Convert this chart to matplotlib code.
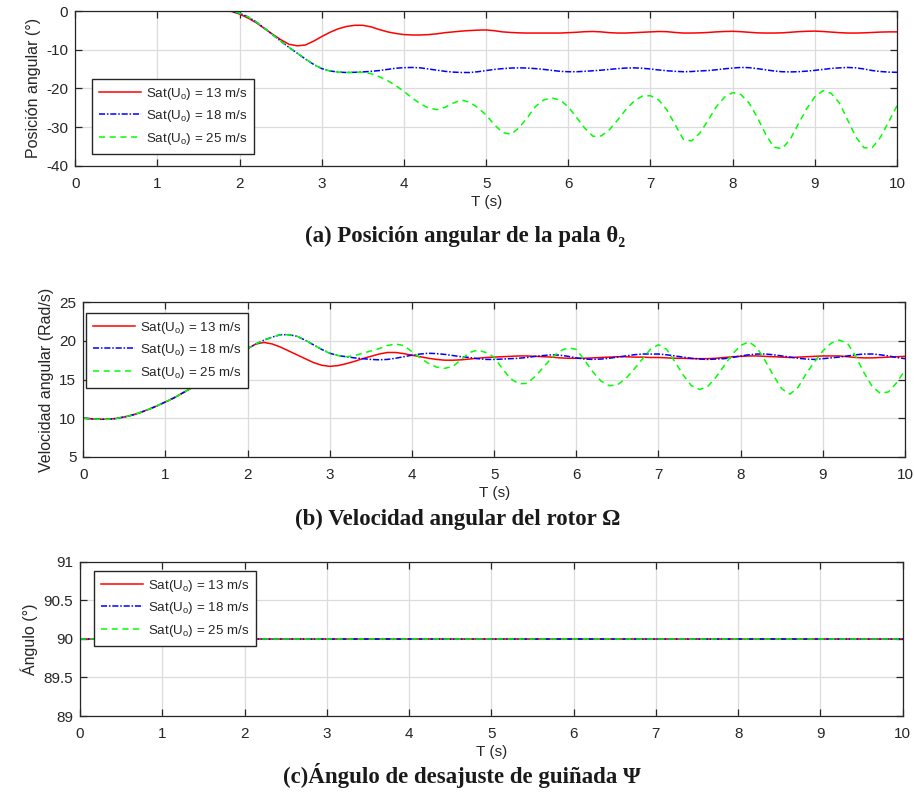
import numpy as np
import matplotlib
matplotlib.use("Agg")
import matplotlib.pyplot as plt

plt.rcParams['font.family'] = ['Liberation Sans', 'DejaVu Sans']
plt.rcParams['axes.unicode_minus'] = False

# ---------------- data ----------------
t = [round(0.1 * i, 1) for i in range(101)]
t_flat = [0.0, 10.0]

labels = ['Sat(U$_\\mathregular{o}$) = 13 m/s',
          'Sat(U$_\\mathregular{o}$) = 18 m/s',
          'Sat(U$_\\mathregular{o}$) = 25 m/s']

# (a) blade angular position theta_2 (deg)
theta_13 = [0.0] * 19 + [
    -0.1, -0.8, -1.8, -3.0, -4.5, -6.0, -7.4, -8.6, -9.0, -8.8, -7.8,
    -6.6, -5.5, -4.6, -4.0, -3.7, -3.7, -4.1, -4.8, -5.4, -5.8,
    -6.1, -6.2, -6.2, -6.1, -5.9, -5.6, -5.4, -5.2, -5.05, -4.95,
    -4.9, -5.1, -5.4, -5.55, -5.65, -5.7, -5.7, -5.7, -5.7, -5.7,
    -5.6, -5.5, -5.35, -5.3, -5.4, -5.6, -5.7, -5.7, -5.6, -5.5,
    -5.4, -5.3, -5.35, -5.55, -5.7, -5.7, -5.65, -5.55, -5.4, -5.3,
    -5.25, -5.35, -5.5, -5.65, -5.7, -5.7, -5.65, -5.5, -5.35, -5.25,
    -5.2, -5.3, -5.45, -5.6, -5.7, -5.7, -5.65, -5.55, -5.45, -5.4,
    -5.4]
theta_18 = [0.0] * 19 + [
    -0.05, -0.6, -1.5, -2.8, -4.4, -6.1, -7.8, -9.4, -10.9, -12.4, -13.8,
    -14.9, -15.5, -15.8, -15.9, -15.85, -15.75, -15.6, -15.4, -15.1, -14.8,
    -14.65, -14.6, -14.7, -15.0, -15.3, -15.6, -15.8, -15.9, -15.9, -15.7,
    -15.4, -15.1, -14.9, -14.75, -14.7, -14.75, -14.9, -15.1, -15.35, -15.6,
    -15.7, -15.7, -15.6, -15.45, -15.3, -15.1, -14.9, -14.75, -14.7, -14.8,
    -15.0, -15.25, -15.45, -15.6, -15.7, -15.65, -15.5, -15.4, -15.2, -14.95,
    -14.75, -14.6, -14.65, -14.9, -15.2, -15.5, -15.7, -15.75, -15.7, -15.55,
    -15.35, -15.1, -14.85, -14.7, -14.6, -14.7, -15.0, -15.4, -15.65, -15.8,
    -15.85]
theta_25 = [0.0] * 19 + [
    -0.05, -0.6, -1.5, -2.8, -4.4, -6.1, -7.8, -9.4, -10.9, -12.4, -13.8,
    -14.9, -15.5, -15.8, -15.9, -15.85, -15.85, -16.2, -17.0, -18.0, -19.3,
    -20.8, -22.5, -24.0, -25.1, -25.5, -24.9, -23.8, -23.0, -23.6, -25.0,
    -26.9, -29.4, -31.4, -31.9, -30.2, -27.6, -24.7, -23.0, -22.5, -23.0,
    -24.8, -27.5, -30.3, -32.4, -32.3, -30.7, -28.2, -25.5, -23.3, -22.0,
    -21.9, -23.0, -25.6, -29.4, -33.2, -33.6, -31.6, -28.3, -24.8, -22.3,
    -21.1, -21.6, -23.8, -27.5, -31.8, -35.2, -35.6, -33.2, -29.2, -25.3,
    -22.2, -20.6, -21.3, -23.8, -28.2, -32.6, -35.4, -35.3, -32.6, -28.6,
    -24.5]

# (b) rotor angular speed Omega (rad/s)
omega_start = [10.0, 9.9, 9.85, 9.85, 9.95, 10.15, 10.4, 10.75, 11.15, 11.6,
               12.1, 12.6, 13.2, 13.8, 14.4, 15.1, 15.8, 16.5, 17.3, 18.1,
               19.0]
omega_13 = omega_start + [
    19.6, 19.8, 19.6, 19.2, 18.7, 18.2, 17.7, 17.2, 16.85, 16.7,
    16.8, 17.05, 17.35, 17.7, 18.0, 18.3, 18.5, 18.5, 18.35, 18.15,
    17.95, 17.75, 17.6, 17.5, 17.5, 17.55, 17.65, 17.75, 17.85, 17.9,
    17.95, 18.0, 18.05, 18.05, 18.0, 17.95, 17.9, 17.8, 17.75, 17.75,
    17.75, 17.8, 17.85, 17.9, 17.95, 17.95, 17.9, 17.9, 17.85, 17.85,
    17.8, 17.75, 17.75, 17.7, 17.7, 17.7, 17.75, 17.85, 17.95, 18.0,
    18.05, 18.05, 18.0, 17.95, 17.9, 17.85, 17.9, 17.95, 18.0, 18.05,
    18.05, 18.05, 17.95, 17.85, 17.8, 17.8, 17.85, 17.9, 17.95, 18.0]
omega_18 = omega_start + [
    19.6, 20.1, 20.5, 20.8, 20.8, 20.6, 20.1, 19.5, 18.9, 18.4,
    18.1, 17.95, 17.8, 17.7, 17.6, 17.55, 17.6, 17.75, 17.95, 18.15,
    18.3, 18.4, 18.35, 18.25, 18.1, 17.95, 17.85, 17.7, 17.6, 17.6,
    17.65, 17.7, 17.75, 17.85, 18.0, 18.1, 18.2, 18.15, 18.0, 17.8,
    17.65, 17.6, 17.65, 17.75, 17.9, 18.05, 18.2, 18.3, 18.3, 18.3,
    18.2, 18.05, 17.9, 17.75, 17.65, 17.6, 17.65, 17.7, 17.85, 18.05,
    18.2, 18.3, 18.3, 18.2, 18.05, 17.9, 17.75, 17.65, 17.6, 17.7,
    17.8, 17.9, 18.05, 18.2, 18.3, 18.3, 18.2, 18.05, 17.85, 17.7]
omega_25 = omega_start + [
    19.6, 20.1, 20.5, 20.8, 20.8, 20.6, 20.1, 19.5, 18.9, 18.4,
    18.1, 17.95, 18.1, 18.4, 18.7, 19.0, 19.4, 19.6, 19.4, 18.6,
    17.8, 17.1, 16.6, 16.45, 16.7, 17.6, 18.5, 18.8, 18.5, 17.9,
    16.4, 15.1, 14.45, 14.5, 15.4, 16.6, 17.8, 18.7, 19.1, 18.9,
    17.5, 16.0, 14.8, 14.2, 14.3, 15.1, 16.3, 17.6, 18.9, 19.5,
    18.9, 17.3, 15.6, 14.2, 13.7, 14.1, 15.3, 16.8, 18.3, 19.4,
    19.9, 19.1, 17.4, 15.5, 13.8, 13.1, 14.0, 15.8, 17.3, 18.7,
    19.7, 20.1, 19.7, 18.0, 15.9, 14.1, 13.2, 13.4, 14.6, 16.2]

# (c) yaw misalignment angle Psi (deg)
psi_13 = [90.0, 90.0]
psi_18 = [90.0, 90.0]
psi_25 = [90.0, 90.0]

xticks = list(range(0, 11))
yticks_a = [-40, -30, -20, -10, 0]
yticks_b = [5, 10, 15, 20, 25]
yticks_c = [89, 89.5, 90, 90.5, 91]
yticklabels_c = ['89', '89.5', '90', '90.5', '91']

# ---------------- figure ----------------
W, H = 914, 796
fig = plt.figure(figsize=(W / 100, H / 100), dpi=100)

def rect(l, t_, r, b):
    return [l / W, 1 - b / H, (r - l) / W, (b - t_) / H]

ax_a = fig.add_axes(rect(75.3, 11, 897, 165.7))
ax_b = fig.add_axes(rect(83.3, 302.3, 905, 456.7))
ax_c = fig.add_axes(rect(80, 561.7, 902.7, 716))

red, blue, green = '#ff0000', '#0000ff', '#00ff00'
dark = '#262626'

def style(ax, ylim, yticks, ylabel, yticklabels=None):
    ax.set_xlim(0, 10)
    ax.set_ylim(*ylim)
    ax.set_xticks(xticks)
    ax.set_yticks(yticks)
    if yticklabels is not None:
        ax.set_yticklabels(yticklabels)
    ax.grid(True, color='#dcdcdc', linewidth=0.9)
    ax.set_axisbelow(True)
    ax.tick_params(direction='in', top=True, right=True, length=5,
                   width=0.9, color=dark, labelsize=11, labelcolor=dark)
    ax.tick_params(axis='x', pad=8)
    ax.tick_params(axis='y', pad=5)
    for s in ax.spines.values():
        s.set_color(dark)
        s.set_linewidth(0.9)
    ax.set_xlabel('T (s)', fontsize=11, color=dark, labelpad=3)
    ax.set_ylabel(ylabel, fontsize=11.5, color=dark, labelpad=4)

def draw(ax, x, ys):
    ax.plot(x, ys[0], color=red, lw=1.1, ls='-', label=labels[0])
    ax.plot(x, ys[1], color=blue, lw=1.1, ls='-.',
            dashes=(4, 1.2, 1, 1.2), label=labels[1])
    ax.plot(x, ys[2], color=green, lw=1.1, ls='--',
            dashes=(4, 3), label=labels[2])

def legend(ax, anchor):
    leg = ax.legend(loc='upper left', bbox_to_anchor=anchor, borderaxespad=0,
                    fontsize=9.6, frameon=True, fancybox=False,
                    framealpha=1, edgecolor=dark, handlelength=3.2,
                    handletextpad=0.35, labelspacing=0.5, borderpad=0.5,
                    handleheight=0.9)
    leg.get_frame().set_linewidth(1.0)
    for txt in leg.get_texts():
        txt.set_color(dark)
    leg.set_zorder(10)

draw(ax_a, t, [theta_13, theta_18, theta_25])
style(ax_a, (-40, 0), yticks_a, 'Posición angular (°)')
legend(ax_a, (0.0203, 0.5604))

draw(ax_b, t, [omega_13, omega_18, omega_25])
style(ax_b, (5, 25), yticks_b, 'Velocidad angular (Rad/s)')
legend(ax_b, (0.0033, 0.9307))

draw(ax_c, t_flat, [psi_13, psi_18, psi_25])
style(ax_c, (89, 91), yticks_c, 'Ángulo (°)', yticklabels_c)
legend(ax_c, (0.017, 0.94))

cap_font = dict(family=['Liberation Serif', 'DejaVu Serif'],
                fontweight='bold', fontsize=16.5, color='#1a1a1a',
                ha='center', va='center')
fig.text(465 / W, 1 - 236 / H, '(a) Posición angular de la pala θ₂', **cap_font)
fig.text(458 / W, 1 - 519 / H, '(b) Velocidad angular del rotor Ω', **cap_font)
fig.text(462 / W, 1 - 775 / H, '(c)Ángulo de desajuste de guiñada Ψ', **cap_font)

fig.savefig('out.png', dpi=100)
